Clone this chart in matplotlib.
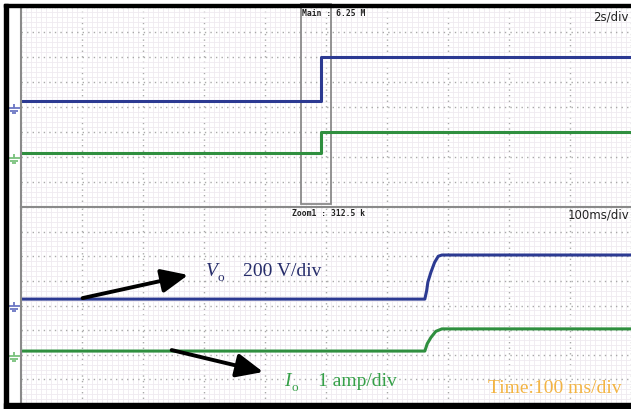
import matplotlib.pyplot as plt
from matplotlib.path import Path
from matplotlib.patches import Rectangle

# main window: 2 s/div, trace levels in divisions (8 div high)
main_t = [0, 9.84, 9.84, 20]
main_vo = [4.24, 4.24, 6.0, 6.0]
main_io = [2.16, 2.16, 3.0, 3.0]

# zoom window: 100 ms/div
zoom_vo_t = [0, 662, 665, 667, 672, 678, 684, 690, 1000]
zoom_vo = [4.26, 4.26, 4.6, 4.95, 5.35, 5.75, 6.0, 6.05, 6.05]
zoom_io_t = [0, 662, 666, 672, 680, 690, 1000]
zoom_io = [2.15, 2.15, 2.45, 2.7, 2.95, 3.05, 3.05]

# ground reference markers (div)
main_gnd = [3.88, 1.88]
zoom_gnd = [3.9, 1.87]

# zoom region marked on the main window (s)
zoom_box = [9.18, 10.16]

BLUE = '#2c3a92'
GREEN = '#2f8f3f'
W, H = 631, 410

# ground symbol marker
gnd_path = Path(
    [(0, 1.0), (0, 0.35), (-1, 0.35), (1, 0.35), (-0.65, -0.1), (0.65, -0.1), (-0.3, -0.55), (0.3, -0.55)],
    [Path.MOVETO, Path.LINETO, Path.MOVETO, Path.LINETO, Path.MOVETO, Path.LINETO, Path.MOVETO, Path.LINETO])

fig = plt.figure(figsize=(W / 100, H / 100), dpi=100)
ax_bot = fig.add_axes([21 / W, 5 / H, 610 / W, 197 / H])
ax_top = fig.add_axes([21 / W, (H - 208) / H, 610 / W, 200 / H])
ax_top.patch.set_alpha(0)


def scope_grid(ax, xmax):
    ax.set_xlim(0, xmax)
    ax.set_ylim(0, 8)
    div = xmax / 10
    ax.set_xticks([div * i for i in range(11)])
    ax.set_xticks([div / 12 * i for i in range(121)], minor=True)
    ax.set_yticks(range(9))
    ax.set_yticks([i / 5 for i in range(41)], minor=True)
    ax.grid(which='minor', color='#efeaf0', lw=0.6)
    ax.grid(which='major', color='#a9a9a9', lw=1.0, linestyle=(0, (1, 3)))
    ax.set_axisbelow(True)
    ax.tick_params(which='both', length=0, labelbottom=False, labelleft=False)
    for s in ['top', 'right']:
        ax.spines[s].set_visible(False)
    for s in ['left', 'bottom']:
        ax.spines[s].set_color('#8a8a8a')
        ax.spines[s].set_linewidth(1.5)


scope_grid(ax_top, 20)
scope_grid(ax_bot, 1000)

# main window traces
ax_top.plot(main_t, main_vo, color=BLUE, lw=2.2)
ax_top.plot(main_t, main_io, color=GREEN, lw=2.2)
ax_top.add_patch(Rectangle((zoom_box[0], 0.12), zoom_box[1] - zoom_box[0], 8,
                           fill=False, edgecolor='#8a8a8a', lw=1.3, clip_on=False))

# zoom window traces
ax_bot.plot(zoom_vo_t, zoom_vo, color=BLUE, lw=2.2)
ax_bot.plot(zoom_io_t, zoom_io, color=GREEN, lw=2.2)

for ax, g, xmax in [(ax_top, main_gnd, 20), (ax_bot, zoom_gnd, 1000)]:
    ax.plot([-xmax * 0.011], [g[0]], marker=gnd_path, ms=9, color='#6b76c4',
            mew=1.3, clip_on=False, ls='none')
    ax.plot([-xmax * 0.011], [g[1]], marker=gnd_path, ms=9, color='#79c27d',
            mew=1.3, clip_on=False, ls='none')

# annotation arrows
arrow = dict(arrowstyle='-|>,head_length=0.9,head_width=0.4', lw=2.8, color='black',
             mutation_scale=18, shrinkA=0, shrinkB=0)
ax_bot.annotate('', xy=(274, 5.24), xytext=(101, 4.30), arrowprops=arrow)
ax_bot.annotate('', xy=(397, 1.30), xytext=(247, 2.19), arrowprops=arrow)

serif = 'Liberation Serif'


def ftext(x, y, s, **kw):
    fig.text(x / W, 1 - y / H, s, **kw)


ftext(206, 276, 'V', family=serif, style='italic', fontsize=14, color='#272d6b', va='baseline')
ftext(217, 281, 'o', family=serif, fontsize=9.5, color='#272d6b', va='baseline')
ftext(243, 276, '200 V/div', family=serif, fontsize=14, color='#272d6b', va='baseline')

ftext(284, 386, 'I', family=serif, style='italic', fontsize=14, color='#35a048', va='baseline')
ftext(291, 391, 'o', family=serif, fontsize=9.5, color='#35a048', va='baseline')
ftext(318, 386, '1 amp/div', family=serif, fontsize=14, color='#35a048', va='baseline')

ftext(488, 393, 'Time:100 ms/div', family=serif, fontsize=14, color='#f3b443', va='baseline')

# scope readouts
ftext(302, 14, 'Main : 6.25 M', family='DejaVu Sans Mono', weight='bold', fontsize=5.8,
      color='#222222', va='center')
ftext(292, 214, 'Zoom1 : 312.5 k', family='DejaVu Sans Mono', weight='bold', fontsize=5.8,
      color='#222222', va='center')
ftext(629, 17, '2s/div', fontsize=8.5, color='#222222', va='center', ha='right')
ftext(629, 215, '100ms/div', fontsize=8.5, color='#222222', va='center', ha='right')

# outer black frame
fig.patches.append(Rectangle((4 / W, (H - 8) / H), 1, 3 / H, transform=fig.transFigure,
                             color='black', zorder=10))
fig.patches.append(Rectangle((4 / W, 0), 3.5 / W, (H - 5) / H, transform=fig.transFigure,
                             color='black', zorder=10))
fig.patches.append(Rectangle((4 / W, 0), 1, 6 / H, transform=fig.transFigure,
                             color='black', zorder=10))

fig.savefig('out.png', dpi=100, facecolor='white')
